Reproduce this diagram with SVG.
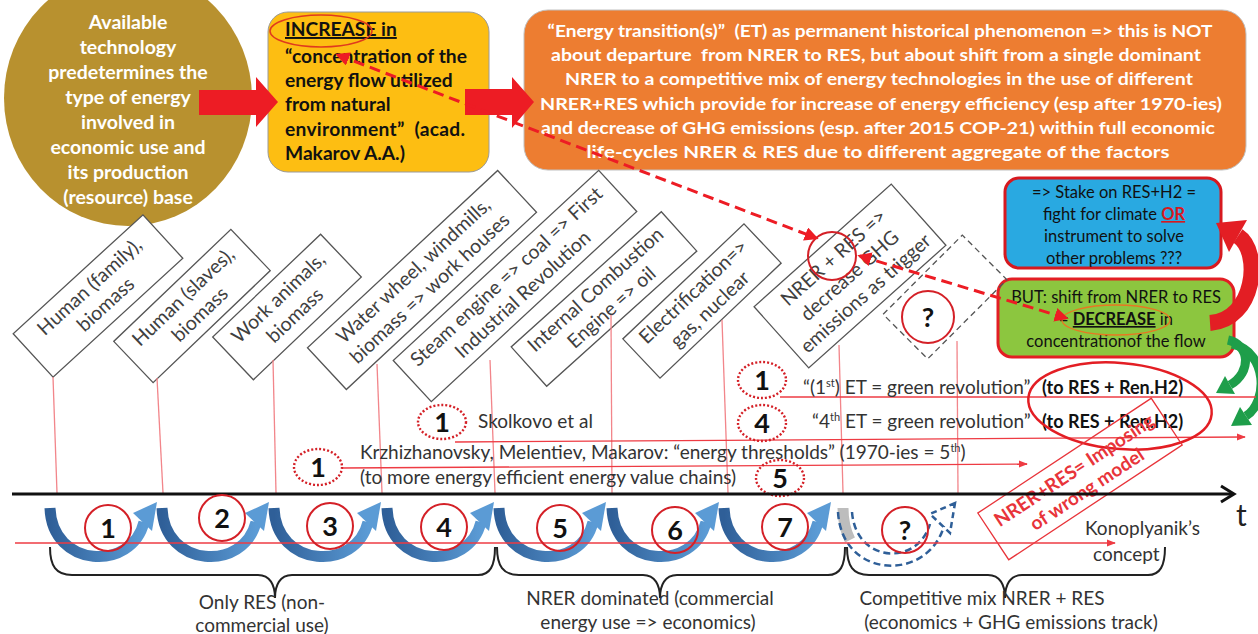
<svg xmlns="http://www.w3.org/2000/svg" width="1258" height="634" viewBox="0 0 1258 634">
<defs>
<style>
text{font-family:Lato,"Liberation Sans",sans-serif}
.wb{fill:#fff;font-weight:bold;font-size:19.5px;text-anchor:middle}
.yb{fill:#111;font-weight:bold;font-size:19.2px}
.ob{fill:#fff;font-weight:bold;font-size:17px;text-anchor:middle}
.bx{fill:#fff;stroke:#555;stroke-width:1.3}
.bt{fill:#404040;font-size:19.5px;text-anchor:middle}
.vl{stroke:#F2858A;stroke-width:1.3;fill:none}
.hl{stroke:#EE3B43;stroke-width:1.3;fill:none}
.rc{fill:none;stroke:#D42027;stroke-width:2}
.dc{fill:none;stroke:#D42027;stroke-width:2.4;stroke-dasharray:2 2}
.num{font-weight:bold;font-size:27px;fill:#111;text-anchor:middle}
.gt{fill:#333;font-size:19px}
.gb{fill:#111;font-size:18px;font-weight:bold}
.ct{fill:#333;font-size:19px;text-anchor:middle}
.sm{fill:#111;font-size:16.5px;text-anchor:middle}
.dash{fill:none;stroke:#ED1C24;stroke-width:3;stroke-dasharray:11 6}
.brace{fill:none;stroke:#222;stroke-width:2}
.ub{fill:none;stroke:url(#ug);stroke-width:11}
</style>
<linearGradient id="ug" x1="0" y1="0" x2="1" y2="0">
<stop offset="0" stop-color="#2F5F98"/>
<stop offset="1" stop-color="#5B9BD5"/>
</linearGradient>
<marker id="ra" viewBox="0 0 10 10" refX="9" refY="5" markerWidth="9" markerHeight="9" markerUnits="userSpaceOnUse" orient="auto">
<path d="M0,1 L10,5 L0,9z" fill="#EE3B43"/>
</marker>
<marker id="da" viewBox="0 0 10 10" refX="8" refY="5" markerWidth="14" markerHeight="14" markerUnits="userSpaceOnUse" orient="auto-start-reverse">
<path d="M0,0 L10,5 L0,10z" fill="#ED1C24"/>
</marker>
<g id="uarrow">
<path class="ub" d="M2,2 C4,62 84,66 96,16"/>
<polygon points="109,-4 85,7 104,25" fill="#5B9BD5"/>
</g>
</defs>

<rect width="1258" height="634" fill="#fff"/>

<g id="tech-circle">
<ellipse cx="128" cy="98" rx="124" ry="128" fill="#B8912F"/>
<text class="wb" x="128" y="29">Available</text>
<text class="wb" x="128" y="54">technology</text>
<text class="wb" x="128" y="79">predetermines the</text>
<text class="wb" x="128" y="104">type of energy</text>
<text class="wb" x="128" y="129">involved in</text>
<text class="wb" x="128" y="154">economic use and</text>
<text class="wb" x="128" y="179">its production</text>
<text class="wb" x="128" y="204">(resource) base</text>
</g>

<g id="increase-box">
<rect x="268" y="12" width="221" height="160" rx="20" fill="#FDBE12" stroke="#9a9a9a" stroke-width="1"/>
<text class="yb" x="285" y="36" text-decoration="underline">INCREASE in</text>
<text class="yb" x="285" y="63" textLength="182" lengthAdjust="spacing">“concentration of the</text>
<text class="yb" x="285" y="87">energy flow utilized</text>
<text class="yb" x="285" y="111">from natural</text>
<text class="yb" x="285" y="136" xml:space="preserve" textLength="180" lengthAdjust="spacing">environment”  (acad.</text>
<text class="yb" x="285" y="160">Makarov A.A.)</text>
<ellipse cx="321" cy="31" rx="51" ry="16" fill="none" stroke="#E03A1E" stroke-width="1.5"/>
</g>

<g id="et-box">
<rect x="524" y="10" width="722" height="160" rx="24" fill="#ED7D31" stroke="#c0c0c0" stroke-width="1"/>
<text class="ob" x="880" y="37" xml:space="preserve" textLength="665" lengthAdjust="spacingAndGlyphs">“Energy transition(s)”  (ET) as permanent historical phenomenon =&gt; this is NOT</text>
<text class="ob" x="876" y="61" xml:space="preserve" textLength="650" lengthAdjust="spacingAndGlyphs">about departure  from NRER to RES, but about shift from a single dominant</text>
<text class="ob" x="879" y="85" textLength="628" lengthAdjust="spacingAndGlyphs">NRER to a competitive mix of energy technologies in the use of different</text>
<text class="ob" x="881" y="110" textLength="682" lengthAdjust="spacingAndGlyphs">NRER+RES which provide for increase of energy efficiency (esp after 1970-ies)</text>
<text class="ob" x="878" y="134" textLength="674" lengthAdjust="spacingAndGlyphs">and decrease of GHG emissions (esp. after 2015 COP-21) within full economic</text>
<text class="ob" x="878" y="158" textLength="583" lengthAdjust="spacingAndGlyphs">life-cycles NRER &amp; RES due to different aggregate of the factors</text>
</g>

<g id="stake-box">
<rect x="1005" y="178" width="216" height="90" rx="14" fill="#29A9E1" stroke="#D7191F" stroke-width="3"/>
<text class="sm" x="1114" y="198">=&gt; Stake on RES+H2 =</text>
<text class="sm" x="1114" y="220">fight for climate <tspan fill="#D7191F" font-weight="bold" text-decoration="underline">OR</tspan></text>
<text class="sm" x="1114" y="242">instrument to solve</text>
<text class="sm" x="1114" y="264">other problems ???</text>
</g>

<g id="but-box">
<rect x="998" y="279" width="236" height="78" rx="14" fill="#8CC63F" stroke="#E31E24" stroke-width="3"/>
<text class="sm" x="1116" y="303">BUT: shift from NRER to RES</text>
<text class="sm" x="1116" y="325">= <tspan font-weight="bold" text-decoration="underline">DECREASE</tspan> in</text>
<text class="sm" x="1116" y="347">concentrationof the flow</text>
<ellipse cx="1116" cy="320" rx="54" ry="15" fill="none" stroke="#E87722" stroke-width="1.3"/>
</g>

<g id="era-boxes">
<g id="era1" transform="translate(98,296) rotate(-42.5)">
<rect class="bx" x="-88" y="-29.5" width="176" height="59"/>
<text class="bt" y="-6">Human (family),</text><text class="bt" y="18">biomass</text>
</g>
<g id="era2" transform="translate(192,306) rotate(-43.7)">
<rect class="bx" x="-81" y="-28.5" width="162" height="57"/>
<text class="bt" y="-6">Human (slaves),</text><text class="bt" y="18">biomass</text>
</g>
<g id="era3" transform="translate(287,307) rotate(-43.6)">
<rect class="bx" x="-74.5" y="-29.5" width="149" height="59"/>
<text class="bt" y="-6">Work animals,</text><text class="bt" y="18">biomass</text>
</g>
<g id="era4" transform="translate(422,280) rotate(-43)">
<rect class="bx" x="-130" y="-28.5" width="260" height="57"/>
<text class="bt" y="-6">Water wheel, windmills,</text><text class="bt" y="18">biomass =&gt; work houses</text>
</g>
<g id="era5" transform="translate(515,286) rotate(-42.8)">
<rect class="bx" x="-140" y="-28" width="280" height="56"/>
<text class="bt" y="-6">Steam engine =&gt; coal =&gt; First</text><text class="bt" y="18">Industrial Revolution</text>
</g>
<g id="era6" transform="translate(604,299) rotate(-42)">
<rect class="bx" x="-101" y="-26.5" width="202" height="53"/>
<text class="bt" y="-6">Internal Combustion</text><text class="bt" y="18">Engine =&gt; oil</text>
</g>
<g id="era7" transform="translate(702,301) rotate(-43.5)">
<rect class="bx" x="-83.5" y="-27" width="167" height="54"/>
<text class="bt" y="-6">Electrification=&gt;</text><text class="bt" y="18">gas, nuclear</text>
</g>
<g id="era8" transform="translate(850,276) rotate(-41.8)">
<rect class="bx" x="-92" y="-41" width="184" height="82"/>
<text class="bt" y="-18">NRER + RES =&gt;</text><text class="bt" y="6">decrease GHG</text><text class="bt" y="30">emissions as trigger</text>
</g>
<g id="era9" transform="translate(945,297) rotate(-45)">
<rect x="-56" y="-31.5" width="112" height="63" fill="none" stroke="#555" stroke-width="1.3" stroke-dasharray="6 4"/>
</g>
<circle class="rc" cx="928" cy="317" r="26" stroke-width="2.5"/>
<text class="num" x="928" y="327" font-size="30">?</text>
<circle class="rc" cx="832" cy="256" r="24" stroke-width="2.5"/>
</g>

<g id="connectors">
<polygon points="199,90 256,90 256,77 278,102 256,127 256,115 199,115" fill="#ED1C24"/>
<polygon points="465,89 512,89 512,77 534,102 512,128 512,115 465,115" fill="#ED1C24"/>
<line class="dash" x1="338" y1="55" x2="816" y2="238" marker-start="url(#da)" marker-end="url(#da)"/>
<line class="dash" x1="860" y1="256" x2="1066" y2="318" marker-start="url(#da)" marker-end="url(#da)"/>

<path d="M1210,323 C1255,320 1262,252 1238,236" stroke="#E31E24" stroke-width="16" fill="none"/>
<polygon points="1216,223 1247,220 1229,252" fill="#E31E24"/>
<path d="M1228,340 C1250,345 1252,372 1230,385" stroke="#1E9E4A" stroke-width="9" fill="none"/>
<polygon points="1216,393 1235,394 1225,376" fill="#1E9E4A"/>
<path d="M1232,344 C1268,352 1268,402 1246,416" stroke="#1E9E4A" stroke-width="9" fill="none"/>
<polygon points="1231,426 1252,425 1240,407" fill="#1E9E4A"/>

<line class="vl" x1="53" y1="377" x2="57" y2="493"/>
<line class="vl" x1="157" y1="378" x2="163" y2="493"/>
<line class="vl" x1="273" y1="360" x2="276" y2="493"/>
<line class="vl" x1="377" y1="364" x2="382" y2="493"/>
<line class="vl" x1="490" y1="360" x2="495" y2="493"/>
<line class="vl" x1="611" y1="315" x2="612" y2="493"/>
<line class="vl" x1="722" y1="320" x2="728" y2="493"/>
<line class="vl" x1="839" y1="345" x2="843" y2="493"/>
<line class="vl" x1="957" y1="341" x2="958" y2="493"/>

<line class="hl" x1="780" y1="397" x2="1256" y2="397"/>
<line class="hl" x1="455" y1="442" x2="1245" y2="437" marker-end="url(#ra)"/>
<line class="hl" x1="342" y1="468" x2="1027" y2="464" marker-end="url(#ra)"/>
</g>

<g id="labels">
<ellipse class="dc" cx="762" cy="380" rx="24" ry="18"/>
<text class="num" x="762" y="390">1</text>
<text class="gt" x="803" y="394">“(1<tspan font-size="11" dy="-7">st</tspan><tspan dy="7">) ET = green revolution”</tspan></text>
<text class="gb" x="1042" y="394">(to RES + Ren.H2)</text>

<ellipse class="dc" cx="762" cy="423" rx="24" ry="18"/>
<text class="num" x="762" y="433">4</text>
<text class="gt" x="812" y="428">“4<tspan font-size="11" dy="-7">th</tspan><tspan dy="7"> ET = green revolution”</tspan></text>
<text class="gb" x="1042" y="428">(to RES + Ren.H2)</text>

<ellipse cx="1120" cy="406" rx="92" ry="43" transform="rotate(5 1120 406)" fill="none" stroke="#E31E24" stroke-width="2.5"/>

<ellipse class="dc" cx="442" cy="422" rx="24" ry="17"/>
<text class="num" x="442" y="432">1</text>
<text class="gt" x="478" y="428">Skolkovo et al</text>

<ellipse class="dc" cx="318" cy="467" rx="24" ry="18"/>
<text class="num" x="318" y="477">1</text>
<text class="gt" x="360" y="459">Krzhizhanovsky, Melentiev, Makarov: “energy thresholds” (1970-ies = 5<tspan font-size="11" dy="-7">th</tspan><tspan dy="7">)</tspan></text>
<text class="gt" x="360" y="484">(to more energy efficient energy value chains)</text>
<ellipse class="dc" cx="780" cy="478" rx="24" ry="18"/>
<text class="num" x="780" y="488">5</text>

<g id="stamp" transform="translate(1080,479) rotate(-33.5)">
<rect x="-104" y="-28" width="208" height="56" fill="none" stroke="#E8343A" stroke-width="1.3"/>
<text x="0" y="-4" fill="#E8343A" font-weight="bold" font-size="19" text-anchor="middle">NRER+RES= Imposing</text>
<text x="0" y="19" fill="#E8343A" font-weight="bold" font-size="19" text-anchor="middle">of wrong model</text>
</g>
</g>

<g id="timeline">
<line x1="12" y1="494" x2="1232" y2="494" stroke="#111" stroke-width="3"/>
<polyline points="1221,486 1234,494 1221,502" fill="none" stroke="#111" stroke-width="3"/>
<text x="1236" y="526" font-size="30" fill="#222">t</text>

<use href="#uarrow" transform="translate(48,506)"/>
<use href="#uarrow" transform="translate(160,506)"/>
<use href="#uarrow" transform="translate(272,506)"/>
<use href="#uarrow" transform="translate(385,506)"/>
<use href="#uarrow" transform="translate(497,506)"/>
<use href="#uarrow" transform="translate(610,506)"/>
<use href="#uarrow" transform="translate(722,506)"/>
<path d="M843,508 C843,520 845,530 850,540" stroke="#BDBDBD" stroke-width="11" fill="none"/>
<path d="M838,512 C842,580 928,582 944,526" fill="none" stroke="#2F5F98" stroke-width="2.5" stroke-dasharray="7 4"/>
<path d="M852,512 C856,564 918,566 930,524" fill="none" stroke="#2F5F98" stroke-width="2.5" stroke-dasharray="7 4"/>
<polygon points="955,503 930,514 950,533" fill="none" stroke="#2F5F98" stroke-width="2.5" stroke-dasharray="6 4"/>

<line x1="15" y1="543" x2="1115" y2="543" stroke="#EE3B43" stroke-width="1.3" marker-end="url(#ra)"/>
<text class="gt" x="1085" y="535">Konoplyanik’s</text>
<text class="gt" x="1093" y="561">concept</text>

<circle class="rc" cx="108" cy="528" r="23"/><text class="num" x="108" y="538">1</text>
<circle class="rc" cx="222" cy="518" r="23"/><text class="num" x="222" y="528">2</text>
<circle class="rc" cx="330" cy="526" r="23"/><text class="num" x="330" y="536">3</text>
<circle class="rc" cx="444" cy="527" r="23"/><text class="num" x="444" y="537">4</text>
<circle class="rc" cx="560" cy="528" r="23"/><text class="num" x="560" y="538">5</text>
<circle class="rc" cx="675" cy="530" r="23"/><text class="num" x="675" y="540">6</text>
<circle class="rc" cx="785" cy="527" r="23"/><text class="num" x="785" y="537">7</text>
<circle class="rc" cx="905" cy="530" r="23"/><text class="num" x="905" y="540">?</text>

<path class="brace" d="M50,547 C50,566 56,575 72,575 L258,575 C270,575 275,585 275,598 C275,585 280,575 292,575 L478,575 C490,575 495,566 495,547"/>
<path class="brace" d="M497,547 C497,566 503,575 519,575 L643,575 C655,575 660,585 660,598 C660,585 665,575 677,575 L828,575 C840,575 845,566 845,547"/>
<path class="brace" d="M847,547 C847,566 853,575 869,575 L988,575 C1000,575 1005,585 1005,598 C1005,585 1010,575 1022,575 L1148,575 C1160,575 1165,566 1165,547"/>

<text class="ct" x="262" y="609">Only RES (non-</text>
<text class="ct" x="262" y="632">commercial use)</text>
<text class="ct" x="650" y="605">NRER dominated (commercial</text>
<text class="ct" x="648" y="629">energy use =&gt; economics)</text>
<text class="ct" x="982" y="605">Competitive mix NRER + RES</text>
<text class="ct" x="1011" y="629">(economics + GHG emissions track)</text>
</g>
</svg>
